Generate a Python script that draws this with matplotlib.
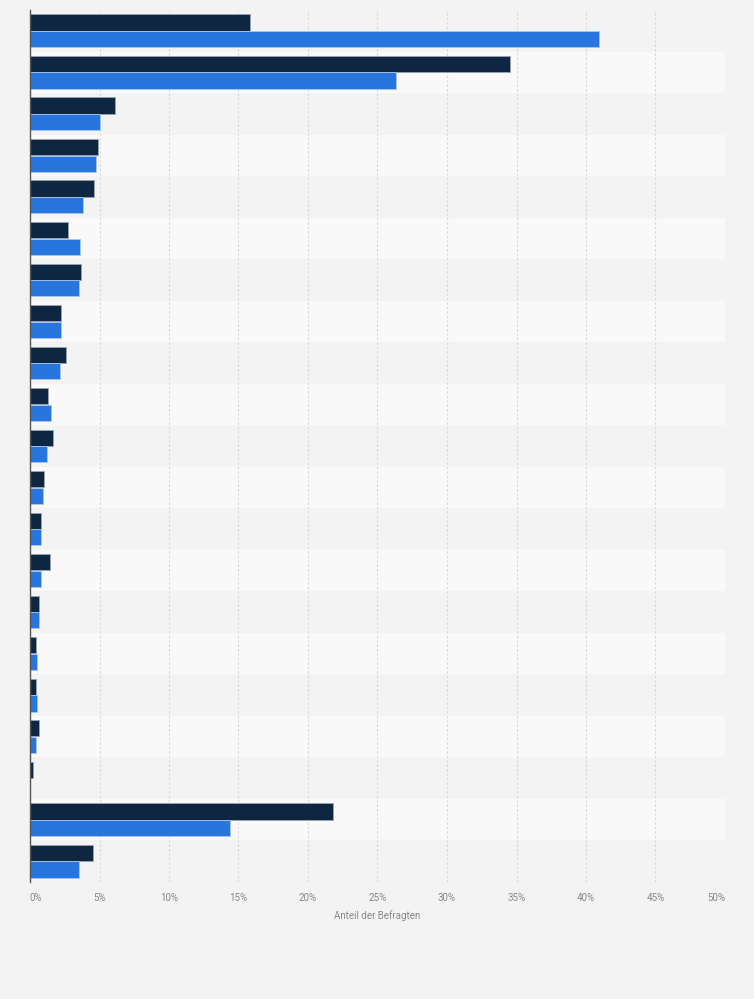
import numpy as np
import matplotlib
matplotlib.use("Agg")
import matplotlib.pyplot as plt

plt.rcParams['font.family'] = ['Roboto', 'DejaVu Sans']

# Werte in Prozent, von oben nach unten
series_dark = [15.8, 34.5, 6.1, 4.9, 4.6, 2.7, 3.7, 2.2, 2.6, 1.3, 1.65,
               1.0, 0.8, 1.45, 0.65, 0.43, 0.43, 0.65, 0.2, 21.8, 4.5]
series_blue = [40.9, 26.3, 5.05, 4.75, 3.8, 3.6, 3.5, 2.2, 2.15, 1.5, 1.2,
               0.9, 0.8, 0.8, 0.65, 0.5, 0.5, 0.43, 0.0, 14.4, 3.5]
xticks = [0, 5, 10, 15, 20, 25, 30, 35, 40, 45, 50]
xtick_labels = [f"{t}%" for t in xticks]
xlabel = "Anteil der Befragten"

n = len(series_dark)
y = np.arange(n)

fig = plt.figure(figsize=(7.54, 9.99), dpi=100, facecolor="#f3f3f3")
ax = fig.add_axes([30 / 754, 1 - 882 / 999, (725 - 30) / 754, (882 - 10) / 999])
ax.set_facecolor("#f3f3f3")

# abwechselnde Zeilenstreifen
for i in range(n):
    if i % 2 == 1:
        ax.axhspan(i - 0.5, i + 0.5, color="#f9f9f9", zorder=0, lw=0)

ax.barh(y - 0.2, series_dark, height=0.39, color="#0f2640",
        edgecolor="#9aa5b1", linewidth=0.6, zorder=3)
ax.barh(y + 0.2, series_blue, height=0.39, color="#2876dd",
        edgecolor="#a9c6ee", linewidth=0.6, zorder=3)

ax.set_xlim(0, 50)
ax.set_ylim(n - 0.5, -0.5)
ax.set_xticks(xticks)
labels = ax.set_xticklabels(xtick_labels, fontsize=7, color="#888888")
labels[0].set_ha("left")
labels[-1].set_ha("right")
ax.set_yticks([])
ax.tick_params(axis="x", length=0, pad=8)
ax.grid(axis="x", color="#d8d8d8", linestyle=(0, (2, 2)), linewidth=0.8, zorder=1)
ax.set_axisbelow(True)

for s in ["top", "right", "bottom"]:
    ax.spines[s].set_visible(False)
ax.spines["left"].set_color("#555555")
ax.spines["left"].set_linewidth(1.0)
ax.spines["left"].set_zorder(4)

ax.set_xlabel(xlabel, fontsize=7, color="#888888", labelpad=5)

fig.savefig("out.png", dpi=100, facecolor=fig.get_facecolor())
